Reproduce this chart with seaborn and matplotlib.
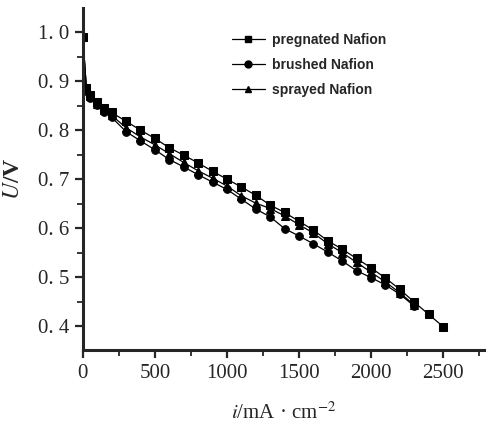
import pandas as pd
import matplotlib
matplotlib.use("Agg")
import matplotlib.pyplot as plt
import seaborn as sns
from matplotlib.ticker import MultipleLocator, FixedLocator, FixedFormatter
from matplotlib.lines import Line2D

# ==========================
# Data
# ==========================
current = [0, 25, 50, 100, 150, 200, 300, 400, 500, 600, 700, 800, 900, 1000,
           1100, 1200, 1300, 1400, 1500, 1600, 1700, 1800, 1900, 2000,
           2100, 2200, 2300, 2400, 2500]

u_pregnated = [0.99, 0.885, 0.872, 0.857, 0.845, 0.836, 0.818, 0.800, 0.783,
               0.764, 0.749, 0.733, 0.716, 0.700, 0.684, 0.667, 0.647, 0.632,
               0.614, 0.596, 0.574, 0.557, 0.538, 0.519, 0.498, 0.475, 0.449,
               0.424, 0.399]
u_brushed = [0.99, 0.880, 0.866, 0.851, 0.838, 0.826, 0.797, 0.778, 0.760,
             0.740, 0.725, 0.709, 0.694, 0.679, 0.659, 0.639, 0.623, 0.599,
             0.584, 0.568, 0.551, 0.533, 0.513, 0.499, 0.484, 0.465, 0.441]
u_sprayed = [0.99, 0.883, 0.869, 0.854, 0.841, 0.830, 0.805, 0.786, 0.770,
             0.752, 0.734, 0.717, 0.702, 0.686, 0.666, 0.651, 0.640, 0.625,
             0.607, 0.590, 0.568, 0.550, 0.530, 0.510, 0.490, 0.468, 0.443]

series_names = ["pregnated Nafion", "brushed Nafion", "sprayed Nafion"]
series_markers = ["s", "o", "^"]

y_ticks = [0.4, 0.5, 0.6, 0.7, 0.8, 0.9, 1.0]
y_tick_labels = ["0. 4", "0. 5", "0. 6", "0. 7", "0. 8", "0. 9", "1. 0"]
x_ticks = [0, 500, 1000, 1500, 2000, 2500]
x_tick_labels = ["0", "500", "1000", "1500", "2000", "2500"]

# ==========================
# Build long table
# ==========================
frames = []
for name, vals in zip(series_names, [u_pregnated, u_brushed, u_sprayed]):
    frames.append(pd.DataFrame({"i": current[:len(vals)], "U": vals, "sample": name}))
df = pd.concat(frames, ignore_index=True)

# ==========================
# Plot
# ==========================
sns.set_style("ticks")
plt.rcParams["font.family"] = ["Liberation Serif", "DejaVu Serif"]
plt.rcParams["mathtext.fontset"] = "stix"

fig = plt.figure(figsize=(4.93, 4.28), dpi=100)
ax = fig.add_axes([0.168, 0.182, 0.814, 0.799])

sns.lineplot(data=df, x="i", y="U", hue="sample", style="sample",
             hue_order=series_names, style_order=series_names,
             palette=["black"] * 3, markers=dict(zip(series_names, series_markers)),
             dashes=False, markersize=5.5, markeredgecolor="black",
             linewidth=0.9, legend=False, ax=ax)

ax.set_xlim(0, 2785)
ax.set_ylim(0.351, 1.049)

ax.xaxis.set_major_locator(FixedLocator(x_ticks))
ax.xaxis.set_major_formatter(FixedFormatter(x_tick_labels))
ax.xaxis.set_minor_locator(MultipleLocator(250))
ax.yaxis.set_major_locator(FixedLocator(y_ticks))
ax.yaxis.set_major_formatter(FixedFormatter(y_tick_labels))
ax.yaxis.set_minor_locator(MultipleLocator(0.05))

ax.tick_params(which="major", direction="out", length=6, width=1.6, labelsize=15, pad=4)
ax.tick_params(which="minor", direction="out", length=4, width=1.3)

sns.despine(ax=ax)
for side in ["left", "bottom"]:
    ax.spines[side].set_linewidth(2.2)

ax.set_xlabel("$i$/mA · cm$^{-2}$", fontsize=15, labelpad=14)
ax.set_ylabel("$U$/V", fontsize=17, fontweight="bold", labelpad=10)

handles = [Line2D([], [], color="black", marker=m, markersize=5, linewidth=0.9)
           for m in series_markers]
leg = ax.legend(handles, series_names, loc="upper left", bbox_to_anchor=(0.34, 0.965),
                frameon=False, handlelength=2.4, handletextpad=0.5, labelspacing=0.8,
                prop={"family": "Liberation Sans", "weight": "bold", "size": 10})

fig.savefig("out.png", dpi=100)
